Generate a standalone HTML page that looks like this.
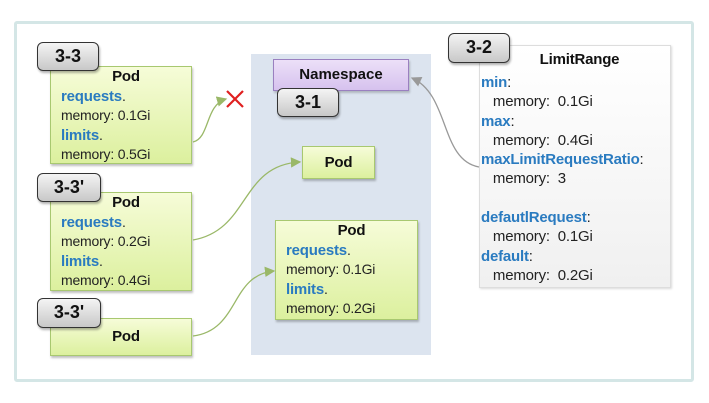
<!DOCTYPE html>
<html><head><meta charset="utf-8"><style>
body{margin:0;width:709px;height:403px;background:#fff;font-family:"Liberation Sans",sans-serif;position:relative;overflow:hidden}
div{position:absolute;box-sizing:border-box}
.frame{left:14px;top:21px;width:680px;height:361px;border:3px solid #d4e6e6;border-radius:3px;background:#fff}
.ns{left:251px;top:54px;width:180px;height:301px;background:#dce4ef}
.pod{background:linear-gradient(#f6fcd8,#dcf09e);border:1px solid #a8c870;box-shadow:1px 2px 2px rgba(0,0,0,.25);font-size:14px;letter-spacing:-0.2px;color:#222;line-height:19.5px;padding-left:10px}
.c{text-align:center;font-weight:bold;font-size:15px;color:#111}
.k{color:#2a7bc0;font-weight:bold;font-size:15px}
.badge{background:linear-gradient(#f4f4f4,#c8c8c8);border:1.5px solid #333;border-radius:6px;font-weight:bold;font-size:18px;text-align:center;color:#111;box-shadow:1px 2px 2px rgba(0,0,0,.3)}
.lr{left:479px;top:45px;width:192px;height:243px;background:linear-gradient(#fff,#f0f0f0);border:1px solid #ddd;box-shadow:1px 1px 2px rgba(0,0,0,.15);font-size:15px;letter-spacing:-0.2px;line-height:19.3px;color:#222;padding-left:1px;white-space:nowrap}
</style></head><body>
<div class="frame"></div>
<div class="ns"></div>

<div class="pod" style="left:50px;top:66px;width:142px;height:98px"><div class="c" style="position:static">Pod</div><span class="k">requests</span>.<br>memory: 0.1Gi<br><span class="k">limits</span>.<br>memory: 0.5Gi</div>
<div class="pod" style="left:50px;top:192px;width:142px;height:99px"><div class="c" style="position:static">Pod</div><span class="k">requests</span>.<br>memory: 0.2Gi<br><span class="k">limits</span>.<br>memory: 0.4Gi</div>
<div class="pod" style="left:50px;top:318px;width:142px;height:38px"><div class="c" style="position:static;line-height:36px">Pod</div></div>

<div style="left:273px;top:59px;width:136px;height:32px;background:linear-gradient(#ece0f8,#d6c2ee);border:1px solid #9a80c0;font-weight:bold;font-size:15px;text-align:center;line-height:30px;color:#111;box-shadow:1px 2px 2px rgba(0,0,0,.2)">Namespace</div>
<div class="pod" style="left:302px;top:146px;width:73px;height:33px;padding:0"><div class="c" style="position:static;line-height:31px">Pod</div></div>
<div class="pod" style="left:275px;top:220px;width:143px;height:100px"><div class="c" style="position:static">Pod</div><span class="k">requests</span>.<br>memory: 0.1Gi<br><span class="k">limits</span>.<br>memory: 0.2Gi</div>

<div class="lr"><div class="c" style="position:static;font-size:15px;line-height:27px;padding-left:8px">LimitRange</div><span class="k">min</span>:<br>&nbsp;&nbsp; memory:&nbsp; 0.1Gi<br><span class="k">max</span>:<br>&nbsp;&nbsp; memory:&nbsp; 0.4Gi<br><span class="k">maxLimitRequestRatio</span>:<br>&nbsp;&nbsp; memory:&nbsp; 3<br><br><span class="k">defautlRequest</span>:<br>&nbsp;&nbsp; memory:&nbsp; 0.1Gi<br><span class="k">default</span>:<br>&nbsp;&nbsp; memory:&nbsp; 0.2Gi</div>

<div class="badge" style="left:37px;top:42px;width:62px;height:29px;line-height:26px">3-3</div>
<div class="badge" style="left:37px;top:173px;width:64px;height:29px;line-height:26px">3-3'</div>
<div class="badge" style="left:37px;top:298px;width:64px;height:30px;line-height:27px">3-3'</div>
<div class="badge" style="left:277px;top:88px;width:62px;height:29px;line-height:26px">3-1</div>
<div class="badge" style="left:448px;top:33px;width:62px;height:30px;line-height:27px">3-2</div>

<svg style="position:absolute;left:0;top:0" width="709" height="403">
<defs>
<marker id="g" markerWidth="8" markerHeight="8" refX="7" refY="4" orient="auto"><path d="M0,0 L8,4 L0,8z" fill="#9ab868"/></marker>
<marker id="y" markerWidth="8" markerHeight="8" refX="7" refY="4" orient="auto"><path d="M0,0 L8,4 L0,8z" fill="#999"/></marker>
</defs>
<g fill="none" stroke="#9ab868" stroke-width="1.3">
<path d="M193,142 C210,138 205,105 226,99" marker-end="url(#g)"/>
<path d="M193,240 C250,230 240,165 300,162" marker-end="url(#g)"/>
<path d="M193,336 C240,330 230,275 274,271" marker-end="url(#g)"/>
</g>
<path d="M479,167 C440,160 450,95 412,78" fill="none" stroke="#999" stroke-width="1.3" marker-end="url(#y)"/>
<path d="M227,91 L243,107 M243,91 L227,107" stroke="#e02020" stroke-width="2.2"/>
</svg>
</body></html>
